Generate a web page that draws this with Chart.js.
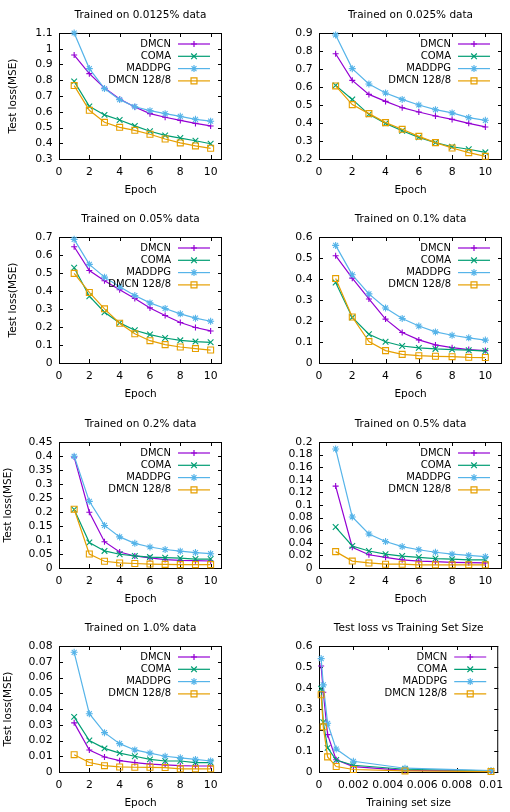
<!DOCTYPE html>
<html>
<head>
<meta charset="utf-8">
<script src="https://cdn.jsdelivr.net/npm/chart.js@4.4.1/dist/chart.umd.min.js"></script>
<style>
  body { margin: 0; background: #fff; }
  #fig { position: relative; width: 510px; height: 812px; background: #fff; }
  #fig canvas { position: absolute; }
</style>
</head>
<body>
<div id="fig"></div>
<script>
// x values
const epochs = [1, 2, 3, 4, 5, 6, 7, 8, 9, 10];
const trainSizes = [0.000125, 0.00025, 0.0005, 0.001, 0.002, 0.005, 0.01];
const seriesNames = ['DMCN', 'COMA', 'MADDPG', 'DMCN 128/8'];

// test loss per epoch, trained on 0.0125% data
const dmcn_00125 = [0.96, 0.842, 0.751, 0.681, 0.630, 0.588, 0.565, 0.545, 0.526, 0.510];
const coma_00125 = [0.793, 0.634, 0.580, 0.548, 0.510, 0.476, 0.450, 0.433, 0.416, 0.397];
const maddpg_00125 = [1.10, 0.874, 0.747, 0.677, 0.632, 0.607, 0.588, 0.571, 0.552, 0.540];
const d128_00125 = [0.766, 0.609, 0.533, 0.501, 0.482, 0.457, 0.427, 0.402, 0.383, 0.368];

// 0.025%
const dmcn_0025 = [0.785, 0.637, 0.559, 0.520, 0.485, 0.461, 0.439, 0.420, 0.398, 0.378];
const coma_0025 = [0.609, 0.531, 0.448, 0.398, 0.357, 0.320, 0.291, 0.268, 0.254, 0.237];
const maddpg_0025 = [0.889, 0.702, 0.617, 0.567, 0.531, 0.500, 0.474, 0.456, 0.430, 0.415];
const d128_0025 = [0.606, 0.502, 0.452, 0.402, 0.365, 0.326, 0.291, 0.261, 0.235, 0.215];

// 0.05%
const dmcn_005 = [0.646, 0.514, 0.457, 0.407, 0.358, 0.306, 0.264, 0.225, 0.197, 0.178];
const coma_005 = [0.529, 0.371, 0.282, 0.223, 0.182, 0.158, 0.139, 0.126, 0.119, 0.115];
const maddpg_005 = [0.687, 0.548, 0.477, 0.423, 0.375, 0.334, 0.303, 0.273, 0.249, 0.232];
const d128_005 = [0.498, 0.392, 0.301, 0.221, 0.162, 0.124, 0.102, 0.089, 0.080, 0.072];

// 0.1%
const dmcn_01 = [0.511, 0.404, 0.305, 0.209, 0.145, 0.110, 0.086, 0.073, 0.064, 0.059];
const coma_01 = [0.383, 0.217, 0.137, 0.101, 0.081, 0.072, 0.067, 0.064, 0.061, 0.057];
const maddpg_01 = [0.560, 0.420, 0.329, 0.262, 0.212, 0.176, 0.148, 0.132, 0.120, 0.109];
const d128_01 = [0.402, 0.219, 0.102, 0.059, 0.041, 0.035, 0.032, 0.030, 0.027, 0.026];

// 0.2%
const dmcn_02 = [0.396, 0.199, 0.094, 0.057, 0.043, 0.036, 0.030, 0.027, 0.026, 0.025];
const coma_02 = [0.209, 0.091, 0.061, 0.049, 0.043, 0.039, 0.037, 0.035, 0.032, 0.032];
const maddpg_02 = [0.399, 0.238, 0.152, 0.111, 0.088, 0.075, 0.066, 0.060, 0.055, 0.051];
const d128_02 = [0.210, 0.050, 0.024, 0.018, 0.016, 0.014, 0.013, 0.012, 0.012, 0.012];

// 0.5%
const dmcn_05 = [0.130, 0.033, 0.021, 0.017, 0.013, 0.011, 0.010, 0.009, 0.0085, 0.008];
const coma_05 = [0.065, 0.035, 0.027, 0.022, 0.019, 0.017, 0.015, 0.014, 0.013, 0.013];
const maddpg_05 = [0.189, 0.081, 0.054, 0.042, 0.034, 0.029, 0.025, 0.022, 0.020, 0.018];
const d128_05 = [0.026, 0.011, 0.008, 0.006, 0.006, 0.005, 0.005, 0.005, 0.005, 0.005];

// 1.0%
const dmcn_10 = [0.0312, 0.014, 0.0095, 0.0072, 0.006, 0.005, 0.0045, 0.004, 0.0038, 0.0038];
const coma_10 = [0.035, 0.020, 0.015, 0.012, 0.010, 0.008, 0.007, 0.007, 0.006, 0.006];
const maddpg_10 = [0.076, 0.037, 0.025, 0.018, 0.014, 0.012, 0.010, 0.009, 0.008, 0.007];
const d128_10 = [0.011, 0.006, 0.004, 0.0032, 0.003, 0.003, 0.0028, 0.002, 0.002, 0.002];

// final test loss vs training set size
const dmcn_bySize = [0.505, 0.38, 0.178, 0.058, 0.026, 0.008, 0.004];
const coma_bySize = [0.397, 0.237, 0.115, 0.057, 0.032, 0.013, 0.006];
const maddpg_bySize = [0.54, 0.415, 0.232, 0.109, 0.051, 0.018, 0.007];
const d128_bySize = [0.368, 0.215, 0.072, 0.026, 0.012, 0.005, 0.002];

const colors = ['#9400d3', '#009e73', '#56b4e9', '#e69f00'];
const markers = ['cross', 'crossRot', 'star', 'rect'];
const markerSize = [3, 4, 3.5, 4.2];

const panels = [
    { title: 'Trained on 0.0125% data', xs: epochs, ys: [dmcn_00125, coma_00125, maddpg_00125, d128_00125], yMin: 0.3, yMax: 1.1, yStep: 0.1 },
    { title: 'Trained on 0.025% data', xs: epochs, ys: [dmcn_0025, coma_0025, maddpg_0025, d128_0025], yMin: 0.2, yMax: 0.9, yStep: 0.1 },
    { title: 'Trained on 0.05% data', xs: epochs, ys: [dmcn_005, coma_005, maddpg_005, d128_005], yMin: 0, yMax: 0.7, yStep: 0.1 },
    { title: 'Trained on 0.1% data', xs: epochs, ys: [dmcn_01, coma_01, maddpg_01, d128_01], yMin: 0, yMax: 0.6, yStep: 0.1 },
    { title: 'Trained on 0.2% data', xs: epochs, ys: [dmcn_02, coma_02, maddpg_02, d128_02], yMin: 0, yMax: 0.45, yStep: 0.05 },
    { title: 'Trained on 0.5% data', xs: epochs, ys: [dmcn_05, coma_05, maddpg_05, d128_05], yMin: 0, yMax: 0.2, yStep: 0.02 },
    { title: 'Trained on 1.0% data', xs: epochs, ys: [dmcn_10, coma_10, maddpg_10, d128_10], yMin: 0, yMax: 0.08, yStep: 0.01 },
    { title: 'Test loss vs Training Set Size', xs: trainSizes, ys: [dmcn_bySize, coma_bySize, maddpg_bySize, d128_bySize], yMin: 0, yMax: 0.6, yStep: 0.1, xMax: 0.01042, xStep: 0.002, xLabel: 'Training set size' }
];

const rowTops = [0, 204, 409, 613];
const cellH = 199;
const FONT = 'DejaVu Sans';

Chart.defaults.font.family = FONT;
Chart.defaults.font.size = 10.8;
Chart.defaults.color = '#000';

function marker(ctx, style, r, x, y) {
    if (Chart.helpers && Chart.helpers.drawPoint) {
        Chart.helpers.drawPoint(ctx, { pointStyle: style, radius: r, borderWidth: ctx.lineWidth, rotation: 0 }, x, y);
        return;
    }
    ctx.beginPath();
    const d = r * Math.SQRT1_2;
    if (style === 'cross' || style === 'star') { ctx.moveTo(x - r, y); ctx.lineTo(x + r, y); ctx.moveTo(x, y - r); ctx.lineTo(x, y + r); }
    if (style === 'crossRot' || style === 'star') { ctx.moveTo(x - d, y - d); ctx.lineTo(x + d, y + d); ctx.moveTo(x - d, y + d); ctx.lineTo(x + d, y - d); }
    if (style === 'rect') ctx.rect(x - d, y - d, 2 * d, 2 * d);
    ctx.stroke();
}

// gnuplot style border with inward ticks on all sides
const frame = {
    id: 'frame',
    beforeDatasetsDraw(chart) {
        const { ctx, chartArea: a, scales: { x, y } } = chart;
        const t = 4;
        ctx.save();
        ctx.strokeStyle = '#000';
        ctx.lineWidth = 1;
        ctx.beginPath();
        x.ticks.forEach(tk => {
            const px = Math.round(x.getPixelForValue(tk.value)) + 0.5;
            ctx.moveTo(px, a.bottom); ctx.lineTo(px, a.bottom - t);
            ctx.moveTo(px, a.top); ctx.lineTo(px, a.top + t);
        });
        y.ticks.forEach(tk => {
            const py = Math.round(y.getPixelForValue(tk.value)) + 0.5;
            ctx.moveTo(a.left, py); ctx.lineTo(a.left + t, py);
            ctx.moveTo(a.right, py); ctx.lineTo(a.right - t, py);
        });
        ctx.stroke();
        ctx.strokeRect(a.left + 0.5, a.top + 0.5, a.right - a.left - 1, a.bottom - a.top);
        ctx.restore();
    }
};

// key in the top right corner: label, then line sample with marker
const key = {
    id: 'key',
    afterDatasetsDraw(chart) {
        const { ctx, chartArea: a } = chart;
        ctx.save();
        ctx.font = '10px "' + FONT + '"';
        ctx.textAlign = 'right';
        ctx.textBaseline = 'middle';
        chart.data.datasets.forEach((ds, i) => {
            const yy = a.top + 11 + i * 12.3;
            ctx.fillStyle = '#000';
            ctx.fillText(ds.label, a.right - 51, yy);
            ctx.strokeStyle = ds.borderColor;
            ctx.fillStyle = 'rgba(0,0,0,0)';
            ctx.lineWidth = 1.2;
            ctx.beginPath();
            ctx.moveTo(a.right - 44, yy);
            ctx.lineTo(a.right - 12, yy);
            ctx.stroke();
            marker(ctx, ds.pointStyle, ds.pointRadius, a.right - 28, yy);
        });
        ctx.restore();
    }
};

const fig = document.getElementById('fig');

panels.forEach((p, idx) => {
    const col = idx % 2, row = Math.floor(idx / 2);
    const canvas = document.createElement('canvas');
    canvas.width = 255;
    canvas.height = cellH;
    canvas.style.left = (col * 255) + 'px';
    canvas.style.top = rowTops[row] + 'px';
    fig.appendChild(canvas);

    const yAxisW = col === 0 ? 59 : 64;
    const padRight = col === 0 ? 33 : 8;
    const wideLabels = p.yStep < 0.1;

    const datasets = p.ys.map((vals, i) => ({
        label: seriesNames[i],
        data: p.xs.map((xv, j) => ({ x: xv, y: vals[j] })),
        borderColor: colors[i],
        backgroundColor: 'rgba(0,0,0,0)',
        borderWidth: 1.2,
        pointStyle: markers[i],
        pointRadius: markerSize[i],
        pointBorderWidth: 1.1,
        pointBorderColor: colors[i],
        pointBackgroundColor: 'rgba(0,0,0,0)',
        tension: 0,
        order: 4 - i,
        clip: false
    }));

    new Chart(canvas, {
        type: 'line',
        data: { datasets },
        options: {
            responsive: false,
            animation: false,
            events: [],
            layout: { padding: { left: 0, right: padRight, top: 0, bottom: 0 } },
            plugins: {
                legend: { display: false },
                tooltip: { enabled: false },
                title: {
                    display: true,
                    text: p.title,
                    fullSize: false,
                    color: '#000',
                    font: { size: 10.5, weight: 'normal' },
                    padding: { top: 8.7, bottom: 11.7 }
                }
            },
            scales: {
                x: {
                    type: 'linear',
                    min: 0,
                    max: p.xMax || (col === 0 ? 10.75 : 11),
                    grid: { display: false, drawTicks: false },
                    border: { display: false },
                    ticks: {
                        stepSize: p.xStep || 2,
                        includeBounds: false,
                        autoSkip: false,
                        maxRotation: 0,
                        padding: 6.5,
                        color: '#000',
                        callback: v => String(+v.toFixed(6))
                    },
                    title: { display: true, text: p.xLabel || 'Epoch', color: '#000', font: { size: 10.5 }, padding: { top: 0, bottom: 2.7 } },
                    afterFit: s => { s.height = cellH - 159; }
                },
                y: {
                    min: p.yMin,
                    max: p.yMax,
                    grid: { display: false, drawTicks: false },
                    border: { display: false },
                    ticks: {
                        stepSize: p.yStep,
                        autoSkip: false,
                        padding: 6.5,
                        color: '#000',
                        callback: v => String(+v.toFixed(6))
                    },
                    title: {
                        display: col === 0,
                        text: 'Test loss(MSE)',
                        color: '#000',
                        font: { size: 10.5 },
                        padding: { top: wideLabels ? 1.7 : 6.7, bottom: 0 }
                    },
                    afterFit: s => { s.width = yAxisW; }
                }
            }
        },
        plugins: [frame, key]
    });
});
</script>
</body>
</html>
